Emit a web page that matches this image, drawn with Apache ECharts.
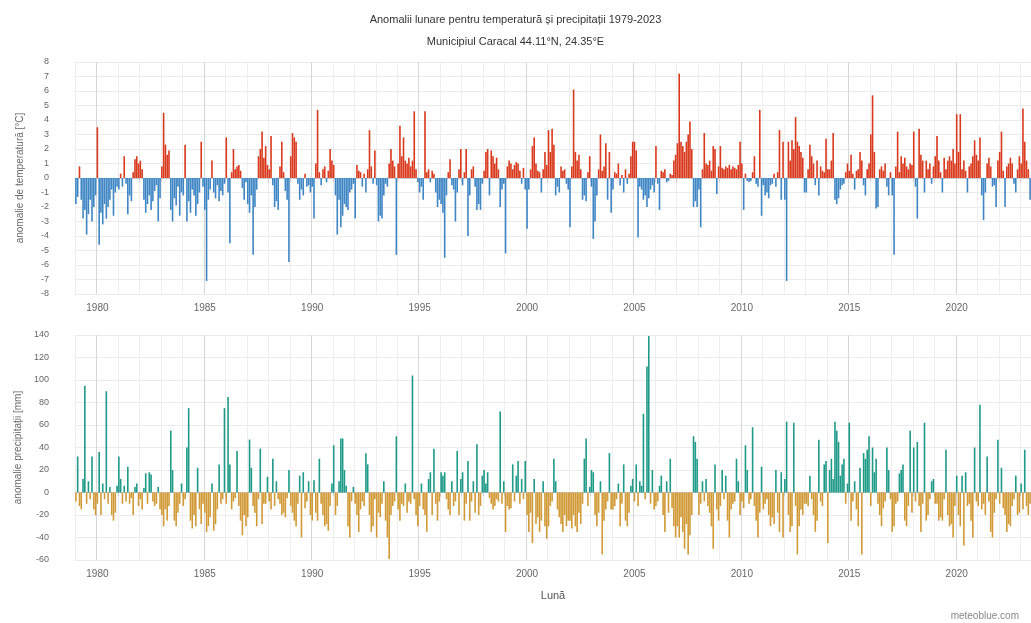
<!DOCTYPE html>
<html>
<head>
<meta charset="utf-8">
<script src="https://cdn.jsdelivr.net/npm/echarts@6/dist/echarts.min.js"></script>
<style>
  html, body { margin: 0; padding: 0; background: #ffffff; }
  #chart { width: 1031px; height: 623px; }
</style>
</head>
<body>
<div id="chart"></div>
<script>
// Monthly series start in January of this year
const startYear = 1979;

// Years that carry an x-axis label
const labelYears = [1980, 1985, 1990, 1995, 2000, 2005, 2010, 2015, 2020];

// Monthly temperature anomaly [°C], one row per year
const temperatureAnomaly = [
  -1.8, -1.3, 0.8, -1.5, -2.8, -2.2, -3.9, -2.5, -1.5, -3.0, -2.0, -1.2,
  3.5, -4.6, -2.4, -3.2, -1.8, -2.8, -2.0, -1.5, -0.8, -2.6, -1.0, -0.6,
  -0.8, 0.3, -0.6, 1.5, -0.4, -2.5, -1.2, -1.6, 0.4, 1.3, 1.5, 1.0,
  1.2, 0.6, -1.5, -2.4, -1.8, -1.2, -2.2, -1.6, -0.9, -0.5, -3.0, -1.4,
  0.8, 4.5, 2.3, 1.6, 1.9, -2.2, -3.0, -1.4, -1.9, -0.6, -2.6, -1.0,
  -1.2, 2.3, -3.0, -1.6, -2.4, -0.8, -1.2, -2.6, -1.8, -1.0, 2.5, -0.6,
  -2.2, -7.1, -1.5, -0.8, 1.2, -1.0, -1.4, -0.5, -1.6, -0.9, -1.2, -0.4,
  2.8, -1.0, -4.5, 0.4, 2.0, 0.6, 0.8, 0.9, 0.5, -0.7, -1.5, -0.3,
  -1.8, -2.4, -1.2, -5.3, -2.0, -0.8, 1.5, 2.0, 3.2, 1.4, 2.2, 0.9,
  0.6, 2.9, -0.5, -2.0, -1.6, -2.2, 0.8, 2.5, 0.4, -0.9, -1.5, -5.8,
  1.5, 3.1, 2.8, 2.5, -0.4, -1.5, -0.8, -1.2, 0.3, -0.6, -0.5, -1.0,
  -0.6, -2.8, 1.0, 4.7, 0.4, -0.5, 0.6, 0.8, -0.3, 0.5, 2.0, 1.2,
  0.9, -1.2, -3.9, -1.5, -3.4, -2.6, -1.8, -2.0, -2.2, -1.0, -0.8, -0.4,
  -2.8, 0.9, 0.5, 0.4, -0.6, 0.3, -1.0, 0.6, 3.3, 0.8, -0.4, 1.9,
  -0.5, -3.0, -2.6, -2.8, -1.2, -0.4, -0.6, 1.0, 2.0, 1.2, 0.8, -5.3,
  1.0, 3.6, 1.5, 2.8, 1.2, 1.0, 1.4, 0.8, 1.2, 4.6, 0.6, -0.3,
  -1.0, -0.6, -1.5, 4.6, 0.4, 0.6, -0.3, 0.5, 0.3, -1.0, -2.0, -1.5,
  -1.8, -2.4, -5.5, -1.2, 0.4, 1.3, -0.5, -0.8, -3.0, -1.0, 0.6, 2.0,
  -0.5, 0.4, 2.0, -4.0, -1.2, 0.6, 0.8, -0.6, -2.2, -1.8, -2.2, -0.4,
  0.5, 1.8, 2.0, -1.2, 1.9, 1.5, 1.0, 1.4, 0.6, -2.0, -0.8, -0.4,
  -5.2, 0.8, 1.2, 1.0, 0.6, 0.9, 1.1, 1.0, 0.5, -0.4, 0.7, -0.8,
  -3.5, -0.8, 0.6, 2.2, 2.8, 1.0, 0.5, 0.4, -1.0, 0.6, 1.8, 0.9,
  3.3, 1.8, 3.4, 2.3, -1.2, -0.6, -1.0, 0.8, 0.5, 0.6, -0.4, -0.8,
  -3.4, 0.8, 6.1, 1.8, 1.2, 1.6, 0.6, -1.5, -1.2, -1.6, 0.4, 1.5,
  -0.6, -4.2, -3.0, -1.2, 0.6, 3.0, 0.5, 0.8, 2.4, -1.5, 1.8, -2.4,
  -0.8, 0.4, 0.3, 1.0, -0.5, 0.2, -1.0, 0.6, -0.4, 0.3, 1.5, 2.5,
  2.5, 1.9, -4.1, -0.6, -0.8, -1.5, -1.2, -2.0, -1.4, -0.8, -0.5, -1.0,
  2.2, -0.4, -2.2, 0.5, 0.4, 0.6, -0.3, -0.2, 0.3, 0.2, 1.2, 1.6,
  2.4, 7.2, 2.5, 2.2, 1.8, 2.5, 3.0, 3.9, 2.0, -2.0, -1.6, -2.0,
  -0.8, -3.4, 0.6, 3.1, 1.0, 0.9, 1.2, 0.5, 2.2, 2.0, -1.1, 0.8,
  2.2, 0.7, 0.6, 0.8, 0.7, 0.9, 0.6, 0.8, 0.7, 0.6, 0.9, 2.5,
  1.0, -2.2, 0.3, -0.2, -0.3, -0.2, 0.4, 1.5, -0.4, -0.6, 4.7, -2.6,
  -0.5, -1.2, -1.0, -1.4, -0.5, -0.4, 0.3, -0.6, 0.4, 3.3, -1.5, 2.5,
  -1.5, -7.1, 2.5, 1.2, 2.6, 2.0, 4.2, 2.5, 2.2, 1.8, 1.4, -1.0,
  -1.0, 0.6, 2.3, 1.5, 1.0, -0.5, 1.2, -1.2, 0.8, 0.5, 0.4, 2.7,
  0.6, 0.6, 1.2, 3.1, -1.5, -1.8, -1.4, -0.8, -0.5, -0.4, 0.4, 1.0,
  0.5, 1.6, 0.3, -0.8, 0.5, 0.6, 1.8, 1.2, -0.5, -1.2, 0.6, 1.0,
  3.0, 5.7, 1.8, -2.1, -2.0, 0.6, 0.8, 0.5, 1.0, -0.6, -1.2, 0.4,
  -1.2, -5.3, 0.8, 3.2, 0.4, 1.5, 1.0, 1.4, 0.8, 0.6, 1.0, 0.9,
  3.2, -0.6, -2.8, 3.4, 1.6, 1.2, -1.0, 1.2, 0.6, 1.0, -0.4, 0.8,
  1.5, 2.9, 1.2, 0.4, -1.0, 1.4, 0.6, 1.2, 1.5, 1.2, 2.0, 1.0,
  4.4, 1.8, 4.4, 0.6, 1.2, 0.5, -1.0, 0.8, 1.0, 1.5, 2.6, 1.6,
  1.2, 2.8, -1.2, -2.9, -1.0, 1.0, 1.4, 0.8, -0.6, -0.5, -2.0, 1.2,
  1.8, 3.2, 0.5, -2.0, 0.8, 1.0, 1.4, 1.0, -0.4, -1.0, 0.6, 1.5,
  1.0, 4.8, 2.5, 1.2, 0.6, -1.5
];

// Monthly precipitation anomaly [mm], one row per year
const precipitationAnomaly = [
  -8, 32, -12, -15, 12, 95, -10, 10, -6, 32, -15, -20,
  -10, 36, -20, 8, -6, 90, -10, 5, -20, -25, -18, 6,
  32, 12, -10, 6, -8, 23, -10, -5, -20, 5, 8, -12,
  -6, -15, 4, 17, -10, 18, 16, -8, -12, -10, 5, -15,
  -20, -30, -15, -25, -12, 55, 20, -25, -30, -18, -10, 8,
  -12, -6, 40, 75, -25, -32, -20, -30, 22, -15, -28, -10,
  -18, -35, -30, -22, 8, -34, -28, -15, 25, -10, -6, 75,
  -10, 85, 25, -15, -8, -5, 37, -12, -25, -38, -20, -30,
  -22, 47, 22, -12, -18, -30, -6, 39, -28, -10, -10, 14,
  -8, -15, 30, -12, 10, -6, -10, -20, -18, -22, -5, 20,
  -12, -18, -25, -30, -10, 15, -40, 18, -14, -8, 10, -20,
  -25, 11, -18, -25, 30, -10, -20, -30, -28, -34, -12, 8,
  42, -20, -12, 10, 48, 48, 20, 6, -30, -40, -8, 5,
  -10, -20, -35, -15, -8, -12, 35, 25, -20, -35, -30, -6,
  -40, -18, -22, -10, 10, -25, -40, -59, -20, -12, -8, 50,
  -15, -25, -10, -12, 8, -18, -8, -10, 104, -6, -20, -30,
  -12, 8, -15, -20, -35, 12, 18, -20, 39, -10, -25, -8,
  18, 15, 18, -6, -15, -20, 10, -12, -8, 37, -20, 12,
  18, -25, -10, 28, -25, -8, 10, -18, 43, -20, -12, 15,
  20, 8, 18, -5, -10, -15, -12, -6, -8, 72, -10, 10,
  -35, -12, -15, -14, 25, -8, 15, 28, -10, 12, -6, 28,
  -20, -35, -18, -45, 12, -28, -22, -35, -25, 10, -30, -41,
  -30, -12, -8, 30, 10, -15, -22, -28, -35, -20, -30, -25,
  -25, -32, -20, -30, -35, -18, -28, -10, 30, 48, -12, 5,
  20, 18, -20, -30, -18, 10, -55, -25, -15, -8, 35, -15,
  -15, -12, -6, 8, -30, -10, 25, -25, -30, -18, 6, 12,
  -8, 25, -12, 10, 6, 70, -6, 112, 139, -10, 20, -15,
  -12, -8, 6, 15, -20, -35, 10, -18, 30, -14, -30, -40,
  -30, -40, -22, -35, -50, -28, -55, -38, -20, 50, 45, 30,
  -20, -10, 10, -8, 12, -12, -18, -30, -50, 25, -15, -25,
  -12, 20, -6, 15, -25, -40, -15, -10, -8, 30, 10, -20,
  -8, -14, 42, 20, -10, -6, 58, -12, -25, -40, -18, 23,
  -15, -10, -6, -20, -30, -22, -28, 20, -18, -35, 18, -40,
  12, 63, -20, -35, -30, 62, -12, -55, -30, -15, -20, -10,
  -10, -12, 15, -6, -20, -35, -25, 47, -8, -12, 25, 28,
  -45, 20, 30, 12, 63, 55, 45, 15, 25, 30, -10, 8,
  62, -25, -8, 10, -15, -30, 22, -55, 35, 30, 38, 50,
  -12, 40, 18, 30, -10, -20, -30, -14, -8, 40, 20, -6,
  -35, -30, -10, -8, 17, 20, 25, -25, -30, -12, 55, -18,
  40, -8, 45, -12, -35, -10, 62, -25, -20, -6, 10, 12,
  -10, -10, -25, -22, -25, -6, 38, -20, -30, -28, -40, -12,
  15, -20, -30, 15, -47, 18, -12, -10, -25, -40, 40, -8,
  -12, 78, -15, -10, -20, 32, -8, -35, -40, -18, -6, 47,
  -10, 22, -14, -20, -35, -28, -30, -12, -6, 15, -20, -18,
  8, -15, 38, -12, -20, -10
];

// Month categories "YYYY-MM"
const months = temperatureAnomaly.map((_, i) => {
  const y = startYear + Math.floor(i / 12);
  const m = (i % 12) + 1;
  return y + '-' + (m < 10 ? '0' + m : '' + m);
});

const FONT = "'Liberation Sans', Arial, sans-serif";
const isJanuary = (i, v) => v.slice(5) === '01';
const isLabelYear = (i, v) => isJanuary(i, v) && labelYears.indexOf(+v.slice(0, 4)) >= 0;

function monthAxis(gridIndex, withName) {
  return {
    type: 'category',
    gridIndex: gridIndex,
    data: months,
    name: withName ? 'Lună' : '',
    nameLocation: 'middle',
    nameGap: 30,
    nameTextStyle: { fontFamily: FONT, fontSize: 11, color: '#555' },
    axisLine: { show: true, lineStyle: { color: '#cccccc', width: 1 } },
    axisTick: { show: true, interval: isJanuary, length: 4, lineStyle: { color: '#cccccc' } },
    axisLabel: {
      interval: isLabelYear,
      formatter: v => v.slice(0, 4),
      margin: 9,
      fontFamily: FONT,
      fontSize: 10,
      color: '#666'
    },
    splitLine: {
      show: true,
      interval: isJanuary,
      lineStyle: { color: ['#eeeeee', '#d6d6d6', '#eeeeee', '#eeeeee', '#eeeeee'], width: 1 }
    }
  };
}

function valueAxis(gridIndex, name, min, max, step, nameGap) {
  return {
    type: 'value',
    gridIndex: gridIndex,
    min: min,
    max: max,
    interval: step,
    name: name,
    nameLocation: 'middle',
    nameGap: nameGap,
    nameTextStyle: { fontFamily: FONT, fontSize: 10, color: '#666' },
    axisLine: { show: false },
    axisTick: { show: false },
    axisLabel: { margin: 26, fontFamily: FONT, fontSize: 9, color: '#666' },
    splitLine: { show: true, lineStyle: { color: '#ebebeb', width: 1 } }
  };
}

const chart = echarts.init(document.getElementById('chart'), null, { renderer: 'canvas' });

chart.setOption({
  animation: false,
  backgroundColor: '#ffffff',
  title: {
    left: 'center',
    top: 9,
    text: 'Anomalii lunare pentru temperatură și precipitații 1979-2023',
    subtext: 'Municipiul Caracal 44.11°N, 24.35°E',
    itemGap: 11,
    textStyle: { fontFamily: FONT, fontSize: 11, fontWeight: 'normal', color: '#333' },
    subtextStyle: { fontFamily: FONT, fontSize: 11, color: '#333' }
  },
  graphic: [{
    type: 'text',
    right: 12,
    bottom: 2,
    style: { text: 'meteoblue.com', font: "10px 'Liberation Sans', Arial, sans-serif", fill: '#888' }
  }],
  grid: [
    { left: 75, right: 0, top: 62, height: 232 },
    { left: 75, right: 0, top: 335, height: 225 }
  ],
  xAxis: [monthAxis(0, false), monthAxis(1, true)],
  yAxis: [
    valueAxis(0, 'anomalie de temperatură [°C]', -8, 8, 1, 50),
    valueAxis(1, 'anomalie precipitații [mm]', -60, 140, 20, 50)
  ],
  series: [
    {
      name: 'temperatură',
      type: 'bar',
      xAxisIndex: 0,
      yAxisIndex: 0,
      barCategoryGap: '10%',
      data: temperatureAnomaly,
      itemStyle: { color: p => (p.value >= 0 ? '#d9391c' : '#3f86c4') }
    },
    {
      name: 'precipitații',
      type: 'bar',
      xAxisIndex: 1,
      yAxisIndex: 1,
      barCategoryGap: '10%',
      data: precipitationAnomaly,
      itemStyle: { color: p => (p.value >= 0 ? '#1e9a88' : '#d19a36') }
    }
  ]
});
</script>
</body>
</html>
